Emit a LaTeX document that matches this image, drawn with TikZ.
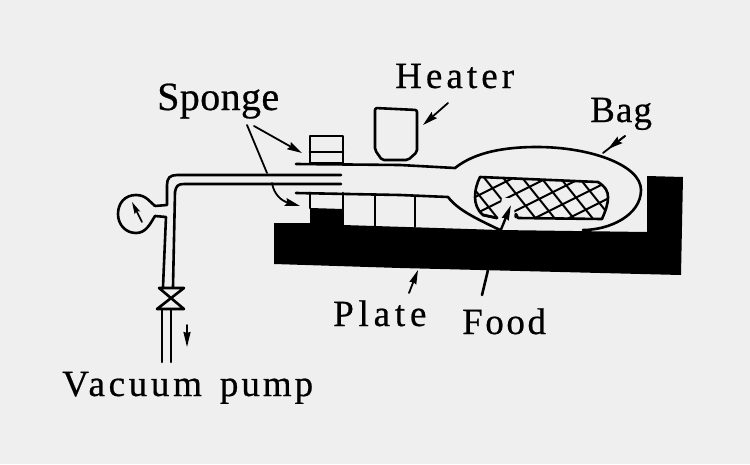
\documentclass[tikz,border=0pt]{standalone}
\usepackage{fontspec}
\setmainfont[FakeBold=0.6]{Liberation Serif}
\usetikzlibrary{arrows.meta}
\definecolor{bgc}{HTML}{EFEFEF}
\tikzset{
 ln/.style={line width=2.6pt,line cap=round,line join=round,black},
 thin ln/.style={line width=2pt,line cap=round,line join=round,black},
 lead/.style={line width=1.8pt,line cap=round,-{Stealth[length=15pt,width=8pt,inset=2pt]}},
 lbl/.style={inner sep=0pt,anchor=base west,font=\fontsize{37}{37}\selectfont}
}
\newcommand{\spaced}[2]{{\addfontfeature{LetterSpace=#1}#2}}
\begin{document}
\begin{tikzpicture}[x=1pt,y=-1pt]
\useasboundingbox (0,0) rectangle (750,464);
\fill[bgc] (0,0) rectangle (750,464);
% plate
\fill[black] (274,223) -- (310,223) -- (310,208) -- (343,209) -- (343,225) -- (500,230) -- (647,232) -- (647,176) -- (683,177) -- (681,275) -- (400,268) -- (274,264) -- cycle;
% sponge
\draw[ln] (310,136) rectangle (343,163);
\draw[ln] (310,152) -- (343,152);
\draw[ln] (310,193) -- (310,208);
\draw[ln] (343,193) -- (343,225);
\draw[thin ln] (375,195) -- (375,226) (415,196) -- (415,227);
% bag
\draw[ln] (296,164) -- (400,165) -- (455,168)
  .. controls (475,152) and (505,147) .. (537,147)
  .. controls (590,147) and (641,165) .. (641,190)
  .. controls (641,215) and (610,230) .. (583,230);
\draw[ln] (296,193) -- (400,195) -- (448,197)
  .. controls (458,210) and (475,218) .. (500,230);
% pipe
\draw[ln] (341,175) -- (177,175) .. controls (170,175) and (167,178) .. (167,185) -- (167,205) -- (155,206);
\draw[ln] (155,216) -- (166,217) -- (163,287);
\draw[ln] (341,184) -- (184,184) .. controls (178,184) and (176,186) .. (175,192) -- (173,287);
% gauge
\draw[ln] (155,206) .. controls (150,202) and (146,195) .. (136,195) .. controls (125,195) and (118,203) .. (118,214) .. controls (118,225) and (126,233) .. (136,233) .. controls (146,233) and (150,224) .. (155,216);
\draw[line width=1.6pt,line cap=round,-{Stealth[length=12pt,width=6pt,inset=2pt]}] (142,222) -- (132,202);
% valve
\draw[ln] (159,288) -- (184,288) -- (157,309) -- (184,309) -- cycle;
\draw[ln] (162,309) -- (162,362) (171,309) -- (171,362);
\draw[line width=1.8pt,line cap=round,-{Stealth[length=15pt,width=7pt,inset=1pt]}] (187,325) -- (187,347);
% heater
\draw[ln,rounded corners=2pt] (375,108) -- (417,110) -- (417,152) -- (408,160) -- (382,160) -- (375,150) -- cycle;
% food
\begin{scope}
\clip (480,177) -- (598,182) .. controls (606,187) and (608,192) .. (608,197) .. controls (608,205) and (605,212) .. (602,219) -- (515,218) -- (497,218) -- (483,215) .. controls (477,210) and (475,203) .. (475,197) .. controls (475,190) and (477,183) .. (480,177) -- cycle;
\foreach \d in {-10,9,...,170} {
  \draw[thin ln] (465+\d,165) -- (465+\d+48,225);
}
\foreach \d in {0,17,...,200} {
  \draw[thin ln] (465,\d+100) -- (625,\d+20);
}
\end{scope}
\draw[ln] (497,218) -- (483,215) .. controls (477,210) and (475,203) .. (475,197) .. controls (475,190) and (477,183) .. (480,177) -- (598,182) .. controls (606,187) and (608,192) .. (608,197) .. controls (608,205) and (605,212) .. (602,219) -- (518,218) -- (516,214);
\fill[bgc] (498,220) -- (502,198) -- (514,198) -- (514.5,221) -- cycle;
\draw[ln] (497,218) -- (483,215);
% leaders
\coordinate (s0) at (254,126); \coordinate (s1) at (302,153);
\draw[lead] (s0) -- (s1);
\draw[line width=1.8pt,line cap=round] (247,125) -- (267,173);
\draw[lead] (272,183) .. controls (274,195) and (282,201) .. (300,206);
\draw[lead] (448,103) -- (423,125);
\draw[line width=1.8pt,line cap=round] (625,136) -- (603,153);
\draw[lead] (625,136) -- (608,149);
\draw[line width=2.4pt,line cap=round,-{Stealth[length=15pt,width=7pt,inset=1pt]}] (500,232) -- (511,205);
\draw[line width=1.8pt,line cap=round,-{Stealth[length=14pt,width=7pt,inset=1pt]}] (409,293) -- (418,270);
\draw[line width=2.6pt,line cap=round] (488,270) -- (482,295);
% labels
\node[lbl,font=\fontsize{40}{40}\selectfont] (t1) at (157,110) {\spaced{1}{Sponge}};
\node[lbl] (t2) at (395,88) {\spaced{11}{Heater}};
\node[lbl] (t3) at (590,122) {\spaced{3}{Bag}};
\node[lbl] (t4) at (333,326) {\spaced{13}{Plate}};
\node[lbl] (t5) at (462,334) {\spaced{7}{Food}};
\node[lbl] (t6) at (62,396) {\spaced{10}{Vacuum}\hspace{18pt}\spaced{8}{pump}};
\end{tikzpicture}
\end{document}
